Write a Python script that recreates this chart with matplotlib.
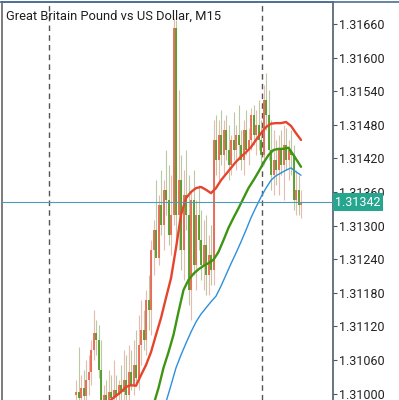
import matplotlib
matplotlib.use("Agg")
import matplotlib.pyplot as plt
import matplotlib.transforms as mtransforms
from matplotlib.lines import Line2D
import numpy as np

# GBPUSD M15 candles
opens = [1.30997, 1.31003, 1.30992, 1.31010, 1.30996, 1.31024, 1.31039, 1.31078, 1.31108, 1.31096,
         1.31042, 1.30989, 1.30997, 1.30980, 1.31003, 1.30992, 1.31006, 1.30997, 1.31015, 1.31003,
         1.31024, 1.30997, 1.31039, 1.31015, 1.31051, 1.31028, 1.31087, 1.31114, 1.31096, 1.31167,
         1.31149, 1.31256, 1.31292, 1.31242, 1.31337, 1.31301, 1.31364, 1.31346, 1.31283, 1.31319,
         1.31653, 1.31319, 1.31381, 1.31256, 1.31355, 1.31319, 1.31185, 1.31346, 1.31230, 1.31319,
         1.31274, 1.31230, 1.31265, 1.31212, 1.31248, 1.31221, 1.31453, 1.31417, 1.31462, 1.31426,
         1.31471, 1.31435, 1.31408, 1.31453, 1.31435, 1.31462, 1.31444, 1.31417, 1.31471, 1.31435,
         1.31453, 1.31498, 1.31462, 1.31480, 1.31453, 1.31426, 1.31524, 1.31498, 1.31435, 1.31390,
         1.31417, 1.31399, 1.31435, 1.31408, 1.31444, 1.31417, 1.31435, 1.31426, 1.31346, 1.31364,
         1.31337]
highs = [1.31024, 1.31083, 1.31033, 1.31042, 1.31060, 1.31069, 1.31096, 1.31149, 1.31131, 1.31122,
         1.31096, 1.31015, 1.31024, 1.31042, 1.31033, 1.31060, 1.31033, 1.31024, 1.31051, 1.31078,
         1.31069, 1.31087, 1.31078, 1.31096, 1.31114, 1.31140, 1.31167, 1.31149, 1.31185, 1.31212,
         1.31274, 1.31310, 1.31381, 1.31355, 1.31399, 1.31381, 1.31435, 1.31408, 1.31390, 1.31671,
         1.31667, 1.31542, 1.31426, 1.31399, 1.31435, 1.31390, 1.31364, 1.31399, 1.31346, 1.31372,
         1.31328, 1.31310, 1.31319, 1.31283, 1.31301, 1.31489, 1.31498, 1.31489, 1.31507, 1.31489,
         1.31498, 1.31480, 1.31462, 1.31503, 1.31480, 1.31515, 1.31471, 1.31489, 1.31507, 1.31474,
         1.31510, 1.31515, 1.31507, 1.31524, 1.31489, 1.31551, 1.31572, 1.31542, 1.31489, 1.31471,
         1.31453, 1.31462, 1.31471, 1.31480, 1.31474, 1.31453, 1.31471, 1.31444, 1.31399, 1.31390,
         1.31364]
lows = [1.30971, 1.30980, 1.30971, 1.30980, 1.30985, 1.30997, 1.31015, 1.31060, 1.31069, 1.31028,
        1.30971, 1.30971, 1.30971, 1.30971, 1.30980, 1.30971, 1.30989, 1.30971, 1.30989, 1.30980,
        1.30989, 1.30971, 1.31006, 1.30997, 1.31015, 1.31006, 1.31051, 1.31078, 1.31069, 1.31114,
        1.31105, 1.31212, 1.31248, 1.31230, 1.31283, 1.31256, 1.31319, 1.31265, 1.31248, 1.31301,
        1.31265, 1.31256, 1.31221, 1.31203, 1.31292, 1.31158, 1.31131, 1.31212, 1.31185, 1.31256,
        1.31203, 1.31185, 1.31176, 1.31176, 1.31194, 1.31194, 1.31390, 1.31381, 1.31408, 1.31390,
        1.31417, 1.31381, 1.31390, 1.31417, 1.31399, 1.31417, 1.31399, 1.31390, 1.31426, 1.31408,
        1.31435, 1.31444, 1.31426, 1.31435, 1.31408, 1.31408, 1.31471, 1.31417, 1.31364, 1.31355,
        1.31372, 1.31355, 1.31390, 1.31346, 1.31399, 1.31381, 1.31390, 1.31328, 1.31319, 1.31319,
        1.31314]
closes = [1.31003, 1.30992, 1.31010, 1.30996, 1.31024, 1.31039, 1.31078, 1.31108, 1.31096, 1.31042,
          1.30989, 1.30997, 1.30980, 1.31003, 1.30992, 1.31006, 1.30997, 1.31015, 1.31003, 1.31024,
          1.30997, 1.31039, 1.31015, 1.31051, 1.31028, 1.31087, 1.31114, 1.31096, 1.31167, 1.31149,
          1.31256, 1.31292, 1.31242, 1.31337, 1.31301, 1.31364, 1.31346, 1.31283, 1.31319, 1.31653,
          1.31319, 1.31381, 1.31256, 1.31355, 1.31319, 1.31185, 1.31346, 1.31230, 1.31319, 1.31274,
          1.31230, 1.31265, 1.31212, 1.31248, 1.31221, 1.31453, 1.31417, 1.31462, 1.31426, 1.31471,
          1.31435, 1.31408, 1.31453, 1.31435, 1.31462, 1.31444, 1.31417, 1.31471, 1.31435, 1.31453,
          1.31498, 1.31462, 1.31480, 1.31453, 1.31426, 1.31524, 1.31498, 1.31435, 1.31390, 1.31417,
          1.31399, 1.31435, 1.31408, 1.31444, 1.31417, 1.31435, 1.31426, 1.31346, 1.31364, 1.31337,
          1.31342]

# moving averages (bar index, value)
ma_fast_idx = [14, 16, 18, 20, 22, 24, 26, 28, 30, 32, 34, 36, 38, 40, 42, 44, 46, 48, 50, 52,
               54, 56, 58, 60, 62, 64, 66, 68, 70, 72, 74, 76, 78, 80, 82, 84, 86, 88, 90]
ma_fast = [1.30989, 1.30996, 1.31003, 1.31012, 1.31015, 1.31014, 1.31033, 1.31051, 1.31074, 1.31105,
           1.31135, 1.31171, 1.31206, 1.31260, 1.31319, 1.31349, 1.31360, 1.31367, 1.31369, 1.31364,
           1.31358, 1.31367, 1.31381, 1.31392, 1.31403, 1.31414, 1.31423, 1.31431, 1.31440, 1.31453,
           1.31465, 1.31476, 1.31482, 1.31483, 1.31483, 1.31485, 1.31478, 1.31465, 1.31453]
ma_mid_idx = [31, 33, 35, 37, 39, 41, 43, 45, 47, 49, 51, 53, 55, 57, 59, 61, 63, 65, 67, 69,
              71, 73, 75, 77, 79, 81, 83, 85, 87, 89, 90]
ma_mid = [1.30980, 1.31010, 1.31046, 1.31074, 1.31105, 1.31146, 1.31185, 1.31203, 1.31214, 1.31222,
          1.31228, 1.31233, 1.31239, 1.31253, 1.31274, 1.31296, 1.31314, 1.31331, 1.31349, 1.31367,
          1.31381, 1.31396, 1.31412, 1.31426, 1.31435, 1.31437, 1.31437, 1.31439, 1.31426, 1.31412,
          1.31405]
ma_slow_idx = [36, 38, 40, 42, 44, 46, 48, 50, 52, 54, 56, 58, 60, 62, 64, 66, 68, 70, 72, 74,
               76, 78, 80, 82, 84, 86, 88, 90]
ma_slow = [1.30985, 1.31015, 1.31046, 1.31069, 1.31090, 1.31110, 1.31128, 1.31142, 1.31153, 1.31164,
           1.31174, 1.31192, 1.31212, 1.31232, 1.31251, 1.31271, 1.31292, 1.31314, 1.31333, 1.31351,
           1.31367, 1.31381, 1.31389, 1.31394, 1.31399, 1.31403, 1.31396, 1.31390]

session_breaks = [-10.8, 74.4]
last_price = 1.31342
price_ticks = [1.31000, 1.31060, 1.31120, 1.31180, 1.31240, 1.31300, 1.31360,
               1.31420, 1.31480, 1.31540, 1.31600, 1.31660]
title = "Great Britain Pound vs US Dollar, M15"

plt.rcParams['font.family'] = ['Roboto', 'DejaVu Sans']

fig = plt.figure(figsize=(3.99, 4.0), dpi=100)
ax = fig.add_axes([2 / 399, 0, 331 / 399, 398 / 400])

o = np.array(opens); h = np.array(highs); l = np.array(lows); c = np.array(closes)
x = np.arange(len(o))
up = c >= o
body_col = np.where(up, '#e8654f', '#4f9a22')
wick_col = np.where(up, '#e7bcae', '#b9c9a4')

ax.vlines(x, l, h, colors=wick_col, linewidth=0.8, zorder=2)
ax.vlines(x, np.minimum(o, c), np.maximum(o, c), colors=body_col, linewidth=1.3, zorder=3)

ax.plot(ma_slow_idx, ma_slow, color='#2e8fdc', lw=1.0, zorder=4, solid_capstyle='round')
ax.plot(ma_mid_idx, ma_mid, color='#3d9512', lw=1.7, zorder=4, solid_capstyle='round')
ax.plot(ma_fast_idx, ma_fast, color='#e6442c', lw=1.7, zorder=4, solid_capstyle='round')

for b in session_breaks:
    ax.axvline(b, color='#555555', lw=1.0, ls=(0, (4, 3)), zorder=1)

ax.axhline(last_price, color='#4a9cb8', lw=0.8, zorder=5)

ax.set_xlim(-29.6, 102.8)
ax.set_ylim(1.3098857, 1.3169929)
ax.set_xticks([])
ax.yaxis.tick_right()
ax.set_yticks(price_ticks)
ax.set_yticklabels([f"{t:.5f}" for t in price_ticks])
ax.tick_params(axis='y', direction='out', length=3, width=0.8, color='#555555',
               pad=1, labelsize=9, labelcolor='#222222')

ax.spines['bottom'].set_visible(False)
ax.spines['left'].set_color('#666666')
ax.spines['right'].set_color('#4d5d70')
ax.spines['top'].set_color('#4d6e93')
for s in ['left', 'right', 'top']:
    ax.spines[s].set_linewidth(1.2)

ax.text(0.012, 0.963, title, transform=ax.transAxes, fontsize=9.3,
        color='#1e1e1e', va='center', ha='left')

trans = mtransforms.blended_transform_factory(ax.transAxes, ax.transData)
ax.text(1.006, last_price, f"{last_price:.5f}", transform=trans, fontsize=9,
        color='white', va='center', ha='left', zorder=10, clip_on=False,
        bbox=dict(boxstyle='square,pad=0.18', fc='#26a58f', ec='none'))

fig.add_artist(Line2D([0, 1], [0.996, 0.996], color='#4d6e93', lw=1.2))

fig.savefig("out.png", dpi=100, facecolor='white')
